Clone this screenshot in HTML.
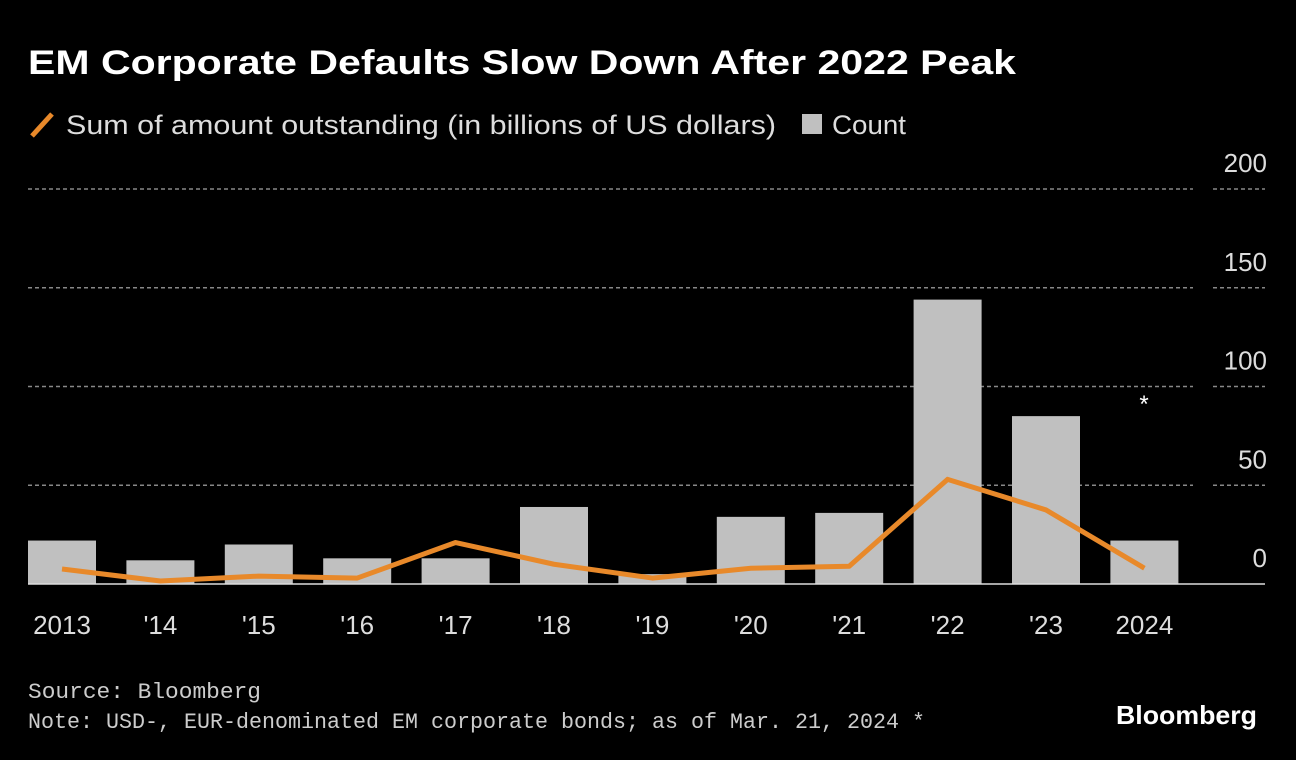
<!DOCTYPE html>
<html><head><meta charset="utf-8"><style>
html,body{margin:0;padding:0;background:#000;}
svg{display:block;font-family:"Liberation Sans",sans-serif;}
</style></head><body>
<svg id="chart" width="1296" height="760" viewBox="0 0 1296 760">
<text x="28" y="74" fill="#fff" font-size="34" font-weight="bold" textLength="988" lengthAdjust="spacingAndGlyphs">EM Corporate Defaults Slow Down After 2022 Peak</text>
<g>
<line x1="32" y1="136" x2="52" y2="114" stroke="#e8892a" stroke-width="5"/>
<text x="66" y="134" fill="#ddd" font-size="27" textLength="710" lengthAdjust="spacingAndGlyphs">Sum of amount outstanding (in billions of US dollars)</text>
<rect x="802" y="114" width="20" height="20" fill="#c0c0c0"/>
<text x="832" y="134" fill="#ddd" font-size="27" textLength="74" lengthAdjust="spacingAndGlyphs">Count</text>
</g>
<g id="grid"></g><g id="bars"></g><g id="line"></g><g id="xlab"></g>
<text x="1144" y="412" fill="#fff" font-size="24" text-anchor="middle">*</text>
<text x="28" y="698" fill="#ccc" font-size="22" font-family="Liberation Mono, monospace" textLength="233" lengthAdjust="spacingAndGlyphs">Source: Bloomberg</text>
<text x="28" y="728" fill="#ccc" font-size="22" font-family="Liberation Mono, monospace" textLength="897" lengthAdjust="spacingAndGlyphs">Note: USD-, EUR-denominated EM corporate bonds; as of Mar. 21, 2024 *</text>
<text x="1257" y="724" fill="#fff" font-size="26" font-weight="bold" text-anchor="end" textLength="141" lengthAdjust="spacingAndGlyphs">Bloomberg</text>
</svg>
<script>
const categories=["2013","'14","'15","'16","'17","'18","'19","'20","'21","'22","'23","2024"];
const countValues=[22,12,20,13,13,39,5,34,36,144,85,22];
const amountValues=[7.6,1.5,4,3,21,10,3,8,9,53,37.5,8];
const yTicks=[0,50,100,150,200];
const NS="http://www.w3.org/2000/svg";
const y=v=>584-v*1.975;
const x=i=>62+i*98.4;
function mk(t,a,p){const e=document.createElementNS(NS,t);for(const k in a)e.setAttribute(k,a[k]);document.getElementById(p).appendChild(e);return e;}
yTicks.forEach(t=>{
 if(t>0){
  const g1=mk('line',{x1:28,x2:1193,y1:y(t),y2:y(t),stroke:'#888','stroke-width':1.5,'stroke-dasharray':'4 3'},'grid');
  
  
  const g2=mk('line',{x1:1213,x2:1265,y1:y(t),y2:y(t),stroke:'#888','stroke-width':1.5,'stroke-dasharray':'4 3'},'grid');
  
  
 }
 const l=mk('text',{x:1267,y:y(t)-17,fill:'#ddd','font-size':26,'text-anchor':'end'},'grid');
 l.textContent=t;
 
 
});
countValues.forEach((v,i)=>{
 const r=mk('rect',{x:x(i)-34,y:y(v),width:68,height:584-y(v),fill:'#c0c0c0'},'bars');
 
 
 const t=mk('text',{x:x(i),y:634,fill:'#ddd','font-size':26,'text-anchor':'middle'},'xlab');
 t.textContent=categories[i];
 
 
});
const ax=mk('line',{x1:28,x2:1265,y1:584,y2:584,stroke:'#ddd','stroke-width':1.5},'bars');


const pl=mk('polyline',{points:amountValues.map((v,i)=>x(i)+','+y(v)).join(' '),fill:'none',stroke:'#e8892a','stroke-width':5,'stroke-linejoin':'round'},'line');


</script>
</body></html>
